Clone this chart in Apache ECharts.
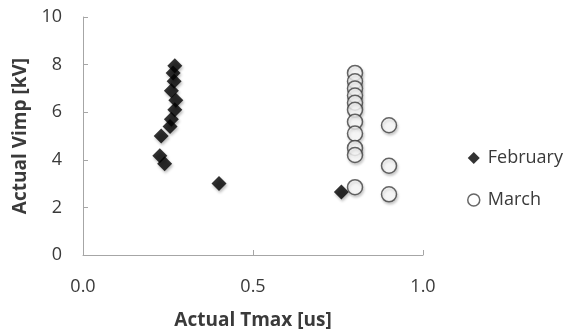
<!DOCTYPE html>
<html><head><meta charset="utf-8">
<script src="https://cdn.jsdelivr.net/npm/echarts@6/dist/echarts.min.js"></script>
<style>html,body{margin:0;padding:0;background:#fff}#c{width:571px;height:335px}</style>
</head><body><div id="c"></div>
<script>
const febT = [0.27, 0.265, 0.268, 0.26, 0.273, 0.27, 0.26, 0.256, 0.23, 0.226, 0.24, 0.40, 0.76];
const febV = [7.95, 7.65, 7.3, 6.9, 6.5, 6.1, 5.7, 5.4, 5.0, 4.17, 3.83, 3.0, 2.65];
const marT = [0.80, 0.80, 0.80, 0.80, 0.80, 0.80, 0.80, 0.80, 0.80, 0.80, 0.80, 0.90, 0.90, 0.90];
const marV = [7.65, 7.3, 7.0, 6.7, 6.4, 6.1, 5.6, 5.1, 4.5, 4.2, 2.85, 5.45, 3.75, 2.55];
const xTicks = [0, 0.5, 1.0];
const yTicks = [0, 2, 4, 6, 8, 10];

const pairs = (a, b) => a.map((v, i) => [v, b[i]]);
const font = '"Open Sans", "Liberation Sans", sans-serif';
const textColor = '#3a3a3a';
const axisColor = '#a6a6a6';

const chart = echarts.init(document.getElementById('c'), null, {renderer: 'canvas'});
chart.setOption({
  animation: false,
  grid: {left: 83, right: 148, top: 17, bottom: 78},
  xAxis: {
    type: 'value', min: xTicks[0], max: xTicks[xTicks.length - 1], interval: 0.5,
    axisLine: {show: true, lineStyle: {color: axisColor, width: 1}},
    axisTick: {show: true, inside: true, length: 5, lineStyle: {color: axisColor}},
    splitLine: {show: false},
    axisLabel: {color: textColor, fontSize: 18, fontFamily: font, margin: 23,
      formatter: v => v.toFixed(1)},
    name: 'Actual Tmax [us]', nameLocation: 'middle', nameGap: 56,
    nameTextStyle: {color: textColor, fontSize: 19, fontWeight: 'bold', fontFamily: font}
  },
  yAxis: {
    type: 'value', min: yTicks[0], max: yTicks[yTicks.length - 1], interval: 2,
    axisLine: {show: true, lineStyle: {color: axisColor, width: 1}},
    axisTick: {show: true, inside: true, length: 5, lineStyle: {color: axisColor}},
    splitLine: {show: false},
    axisLabel: {color: textColor, fontSize: 18, fontFamily: font, margin: 21},
    name: 'Actual Vimp [kV]', nameLocation: 'middle', nameGap: 52, nameRotate: 90,
    nameTextStyle: {color: textColor, fontSize: 19, fontWeight: 'bold', fontFamily: font}
  },
  legend: {
    orient: 'vertical', left: 467, top: 149, itemGap: 24,
    itemWidth: 12, itemHeight: 12, padding: 0,
    textStyle: {color: textColor, fontSize: 18, fontFamily: font, padding: [0, 0, 0, 3]},
    data: [
      {name: 'February', icon: 'diamond', itemStyle: {color: '#000'}},
      {name: 'March', icon: 'circle', itemStyle: {color: '#fff', borderColor: '#404040', borderWidth: 1.5}}
    ]
  },
  series: [
    {
      name: 'February', type: 'scatter', symbol: 'diamond', symbolSize: 15,
      data: pairs(febT, febV),
      itemStyle: {color: '#000', shadowColor: 'rgba(0,0,0,0.35)', shadowBlur: 3, shadowOffsetX: 1, shadowOffsetY: 2}
    },
    {
      name: 'March', type: 'scatter', symbol: 'circle', symbolSize: 15,
      data: pairs(marT, marV),
      itemStyle: {color: '#fff', borderColor: '#404040', borderWidth: 1.5,
        shadowColor: 'rgba(0,0,0,0.25)', shadowBlur: 3, shadowOffsetX: 1, shadowOffsetY: 2}
    }
  ]
});
</script></body></html>
